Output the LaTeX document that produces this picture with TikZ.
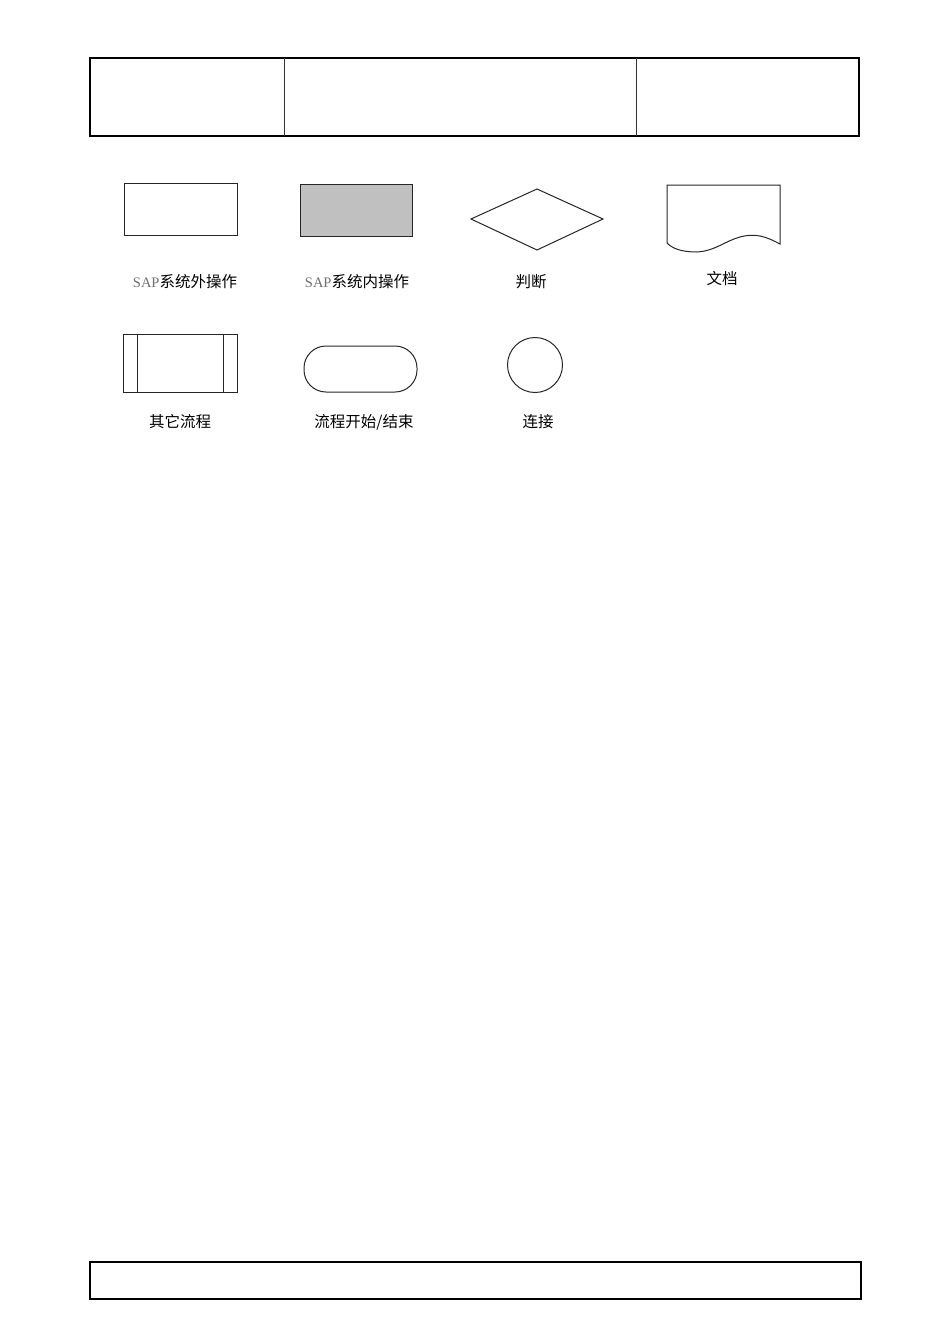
\documentclass[tikz,border=0pt]{standalone}
\usepackage{fontspec}
\newfontfamily\cjk{Noto Sans CJK SC}
\newfontfamily\lat{Liberation Serif}
\definecolor{shapegray}{HTML}{C0C0C0}
\definecolor{sapgray}{HTML}{707070}
\tikzset{
  frame/.style={draw=black, line width=2.6pt},
  divider/.style={draw=black!80, line width=0.8pt},
  shapeline/.style={draw=black!85, line width=1pt},
  lbl/.style={font=\cjk\fontsize{15.5}{18}\selectfont, inner sep=0pt, anchor=center}
}
\begin{document}
\begin{tikzpicture}[x=1pt,y=-1pt]
\useasboundingbox (0,0) rectangle (950,1344);
% header
\draw[frame] (90,58) rectangle (859,136);
\coordinate (d1t) at (284,58); \coordinate (d1b) at (284,136);
\coordinate (d2t) at (636,58); \coordinate (d2b) at (636,136);
\draw[divider] (d1t) -- (d1b);
\draw[divider] (d2t) -- (d2b);
% footer
\draw[frame] (90,1262) rectangle (861,1299);
% 1 outside SAP
\draw[shapeline] (124,183) rectangle (237,235);
\node[lbl] (l1) at (185,282) {{\lat\fontsize{14.5}{18}\selectfont\color{sapgray}SAP}系统外操作};
% 2 inside SAP
\draw[shapeline, fill=shapegray] (300,184) rectangle (412,236);
\node[lbl] (l2) at (357,282) {{\lat\fontsize{14.5}{18}\selectfont\color{sapgray}SAP}系统内操作};
% 3 decision
\draw[shapeline] (471,219) -- (537,189) -- (603,219) -- (537,250) -- cycle;
\node[lbl] (l3) at (531,282) {判断};
% 4 document
\draw[shapeline] (667,243) -- (667,185) -- (780,185) -- (780,244)
  .. controls (765,236) and (755,233) .. (740,237)
  .. controls (725,241) and (715,251) .. (697,252)
  .. controls (680,252) and (672,248) .. (667,243);
\node[lbl] (l4) at (722,279) {文档};
% 5 other process
\draw[shapeline] (123,334) rectangle (237,392);
\draw[shapeline] (137,334) -- (137,392);
\draw[shapeline] (223,334) -- (223,392);
\node[lbl] (l5) at (180,422) {其它流程};
% 6 terminal
\draw[shapeline, rounded corners=22pt] (304,346) rectangle (417,392);
\node[lbl] (l6) at (364,422) {流程开始/结束};
% 7 connector
\draw[shapeline] (535,365) circle (27.5);
\node[lbl] (l7) at (538,422) {连接};
\end{tikzpicture}
\end{document}
